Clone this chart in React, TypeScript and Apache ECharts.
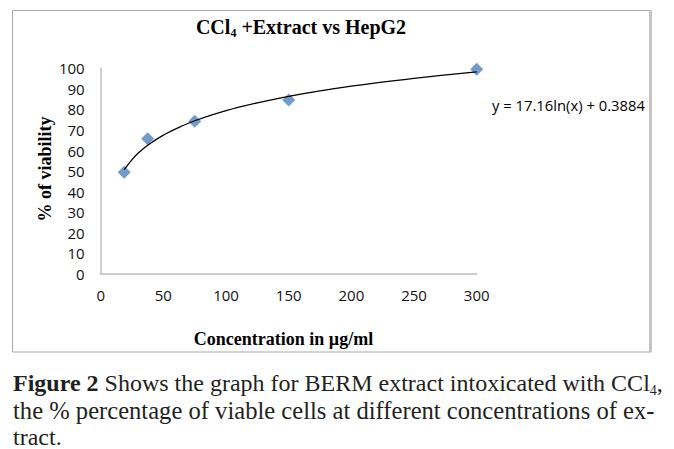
import React, { useEffect, useRef } from "react";
import * as echarts from "echarts";

// Data
const concentrations = [18.75, 37.5, 75, 150, 300];
const viability = [49.5, 65.8, 74.3, 84.6, 99.5];
// Trendline samples
const trendX = [18.75, 25, 30, 37.5, 50, 62.5, 75, 100, 125, 150, 200, 250, 300];
const trendY = [50.7, 55.6, 58.8, 62.6, 67.5, 71.3, 74.5, 79.4, 83.2, 86.4, 91.3, 95.1, 98.3];

const titleMain = "CCl";
const titleSub = "4";
const titleRest = " +Extract vs HepG2";
const xName = "Concentration in µg/ml";
const yName = "% of viability";
const equation = "y = 17.16ln(x) + 0.3884";
const captionBold = "Figure 2";
const caption1 = " Shows the graph for BERM extract intoxicated with CCl";
const caption1Sub = "4";
const caption1End = ",";
const caption2 = "the % percentage of viable cells at different concentrations of ex-";
const caption3 = "tract.";

export default function App() {
  const ref = useRef<HTMLDivElement>(null);
  useEffect(() => {
    if (!ref.current) return;
    const chart = echarts.init(ref.current, undefined, { renderer: "svg" });
    const sans = "Open Sans";
    const serif = "Liberation Serif";
    chart.setOption({
      animation: false,
      backgroundColor: "#ffffff",
      grid: { left: 100.7, right: 197.3, top: 68.3, bottom: 175, containLabel: false },
      xAxis: {
        type: "value",
        min: 0,
        max: 300,
        interval: 50,
        axisLine: { show: true, lineStyle: { color: "#bfbfbf", width: 1.5 } },
        axisTick: { show: false },
        splitLine: { show: false },
        axisLabel: { fontSize: 15, color: "#111", fontFamily: sans, margin: 13 },
      },
      yAxis: {
        type: "value",
        min: 0,
        max: 100,
        interval: 10,
        axisLine: { show: true, lineStyle: { color: "#bfbfbf", width: 1.5 } },
        axisTick: { show: false },
        splitLine: { show: false },
        axisLabel: { fontSize: 15, color: "#111", fontFamily: sans, margin: 16 },
      },
      series: [
        {
          type: "scatter",
          data: concentrations.map((c, i) => [c, viability[i]]),
          symbol: "diamond",
          symbolSize: 13,
          itemStyle: { color: "#4F81BD" },
          z: 2,
        },
        {
          type: "line",
          data: trendX.map((x, i) => [x, trendY[i]]),
          smooth: 0.3,
          showSymbol: false,
          symbol: "none",
          lineStyle: { color: "#000", width: 1.3 },
          z: 3,
        },
      ],
      graphic: [
        {
          type: "rect",
          shape: { x: 12.5, y: 10.5, width: 637, height: 341.5 },
          style: { fill: "none", stroke: "#a9a9a9", lineWidth: 1 },
          z: 1,
        },
        {
          type: "line",
          shape: { x1: 650.5, y1: 10, x2: 650.5, y2: 352.5 },
          style: { stroke: "#c4c4c4", lineWidth: 3 },
          z: 1,
        },
        {
          type: "text",
          x: 301,
          y: 27,
          style: {
            text: `{m|${titleMain}}{s|${titleSub}}{m|${titleRest}}`,
            align: "center",
            verticalAlign: "middle",
            rich: {
              m: { fontFamily: serif, fontWeight: "bold", fontSize: 20, fill: "#000", lineHeight: 24, verticalAlign: "middle" },
              s: { fontFamily: serif, fontWeight: "bold", fontSize: 12, fill: "#000", lineHeight: 10, verticalAlign: "bottom" },
            },
          },
        },
        {
          type: "text",
          x: 283.5,
          y: 339,
          style: {
            text: xName,
            fontFamily: serif,
            fontWeight: "bold",
            fontSize: 18,
            fill: "#000",
            align: "center",
            verticalAlign: "middle",
          },
        },
        {
          type: "text",
          x: 45,
          y: 169,
          rotation: Math.PI / 2,
          style: {
            text: yName,
            fontFamily: serif,
            fontWeight: "bold",
            fontSize: 18,
            fill: "#000",
            align: "center",
            verticalAlign: "middle",
          },
        },
        {
          type: "text",
          x: 492,
          y: 105,
          style: {
            text: equation,
            fontFamily: sans,
            fontSize: 14.8,
            fill: "#000",
            align: "left",
            verticalAlign: "middle",
          },
        },
        {
          type: "text",
          x: 13,
          y: 383,
          style: {
            text: `{b|${captionBold}}{r|${caption1}}{s|${caption1Sub}}{r|${caption1End}}`,
            align: "left",
            verticalAlign: "middle",
            rich: {
              b: { fontFamily: serif, fontWeight: "bold", fontSize: 24, fill: "#231f20", lineHeight: 28, verticalAlign: "middle" },
              r: { fontFamily: serif, fontSize: 24, fill: "#231f20", lineHeight: 28, verticalAlign: "middle" },
              s: { fontFamily: serif, fontSize: 14, fill: "#231f20", lineHeight: 13, verticalAlign: "bottom" },
            },
          },
        },
        {
          type: "text",
          x: 13,
          y: 410,
          style: {
            text: caption2,
            fontFamily: serif,
            fontSize: 24.6,
            fill: "#231f20",
            align: "left",
            verticalAlign: "middle",
          },
        },
        {
          type: "text",
          x: 13,
          y: 437,
          style: {
            text: caption3,
            fontFamily: serif,
            fontSize: 24,
            fill: "#231f20",
            align: "left",
            verticalAlign: "middle",
          },
        },
      ],
    });
    return () => chart.dispose();
  }, []);
  return (
    <div
      ref={ref}
      style={{ position: "fixed", left: 0, top: 0, width: 674, height: 449, background: "#fff" }}
    />
  );
}
